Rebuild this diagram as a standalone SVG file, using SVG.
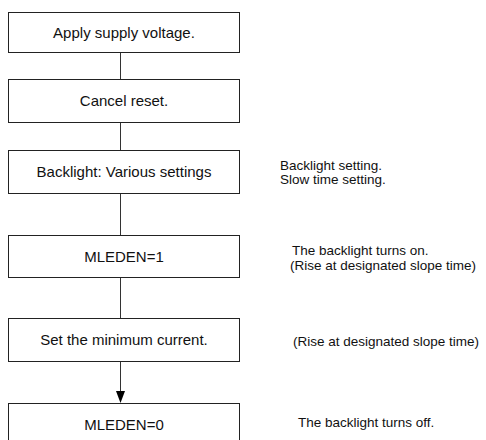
<svg xmlns="http://www.w3.org/2000/svg" width="486" height="440" viewBox="0 0 486 440">
<style>
.box{fill:#fff;stroke:#222;stroke-width:1}
.bt{font-family:"Liberation Sans",Arial,sans-serif;font-size:15px;fill:#111;text-anchor:middle}
.nt{font-family:"Liberation Sans",Arial,sans-serif;font-size:13.5px;fill:#111}
.ln{stroke:#333;stroke-width:1;fill:none}
</style>
<rect width="486" height="440" fill="#fff"/>
<g id="connectors">
<line class="ln" x1="120.5" y1="52" x2="120.5" y2="79"/>
<line class="ln" x1="120.5" y1="122" x2="120.5" y2="150"/>
<line class="ln" x1="120.5" y1="193" x2="120.5" y2="235"/>
<line class="ln" x1="120.5" y1="277" x2="120.5" y2="318"/>
<line class="ln" x1="120.5" y1="361" x2="120.5" y2="391"/>
<path d="M116,391 L125,391 L120.5,403 Z" fill="#000"/>
</g>
<g id="n1">
<rect class="box" x="8.5" y="12.5" width="231" height="40"/>
<text class="bt" x="124" y="37.5">Apply supply voltage.</text>
</g>
<g id="n2">
<rect class="box" x="8.5" y="79.5" width="231" height="43"/>
<text class="bt" x="124" y="106">Cancel reset.</text>
</g>
<g id="n3">
<rect class="box" x="8.5" y="150.5" width="231" height="43"/>
<text class="bt" x="124" y="177">Backlight: Various settings</text>
</g>
<g id="n4">
<rect class="box" x="8.5" y="235.5" width="231" height="42"/>
<text class="bt" x="124" y="262">MLEDEN=1</text>
</g>
<g id="n5">
<rect class="box" x="8.5" y="318.5" width="231" height="43"/>
<text class="bt" x="124" y="345">Set the minimum current.</text>
</g>
<g id="n6">
<rect class="box" x="8.5" y="403.5" width="231" height="50"/>
<text class="bt" x="124" y="430">MLEDEN=0</text>
</g>
<g id="notes">
<text class="nt" x="280" y="170">Backlight setting.</text>
<text class="nt" x="280" y="184">Slow time setting.</text>
<text class="nt" x="292" y="255">The backlight turns on.</text>
<text class="nt" x="290" y="269.5">(Rise at designated slope time)</text>
<text class="nt" x="293" y="346">(Rise at designated slope time)</text>
<text class="nt" x="298" y="427">The backlight turns off.</text>
</g>
</svg>
